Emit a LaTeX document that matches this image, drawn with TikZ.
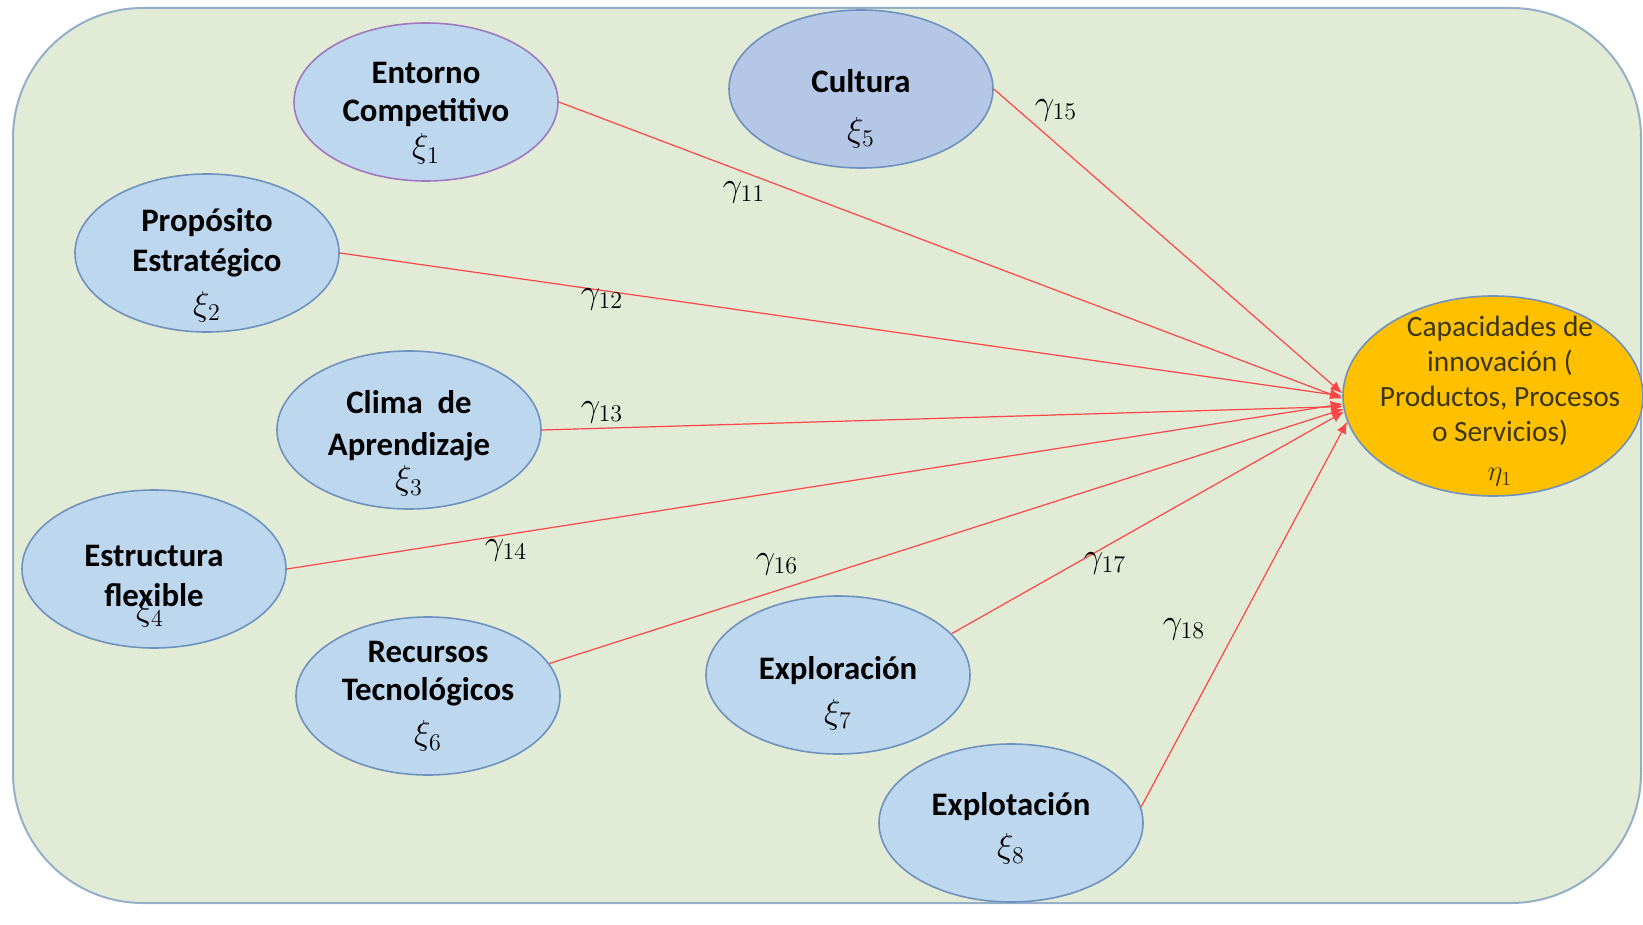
\documentclass[tikz,border=0pt]{standalone}
\usepackage{fontspec}
\setmainfont{Carlito}
\usetikzlibrary{shapes.geometric,arrows.meta}

\definecolor{panelfill}{RGB}{226,235,214}
\definecolor{paneledge}{RGB}{150,175,200}
\definecolor{latfill}{RGB}{189,215,238}
\definecolor{cultfill}{RGB}{180,199,231}
\definecolor{latedge}{RGB}{110,145,190}
\definecolor{entedge}{RGB}{160,120,190}
\definecolor{endofill}{RGB}{255,192,0}
\definecolor{endotext}{RGB}{60,55,15}
\definecolor{pathred}{RGB}{255,70,70}

% text block of an oval, lowered by #2 from the centre
\newcommand{\ovaltext}[3][0pt]{\raisebox{-#2}[0pt][0pt]{\makebox[0pt]{\hspace*{#1}\begin{tabular}{@{}c@{}}#3\end{tabular}}}}

\tikzset{
  latent/.style={ellipse,draw=latedge,fill=latfill,line width=0.8pt,
    minimum width=132pt,minimum height=79pt,inner sep=0pt,
    font=\fontsize{16.4}{19}\selectfont\bfseries},
  endogen/.style={ellipse,draw=latedge,fill=endofill,line width=0.8pt,
    minimum width=150pt,minimum height=100pt,inner sep=0pt,
    text=endotext,font=\fontsize{14.7}{17.5}\selectfont},
  coef/.style={draw=pathred,line width=0.6pt,-{Latex[length=6pt,width=5pt]}},
  gam/.style={inner sep=0pt,font=\fontsize{17}{20}\selectfont}
}

\begin{document}
\begin{tikzpicture}[x=0.5pt,y=-0.5pt]
\useasboundingbox (0,0) rectangle (1643,925);
\draw[draw=paneledge,fill=panelfill,line width=1pt,rounded corners=65pt] (13,8) rectangle (1641,903);

% exogenous constructs
\node[latent,draw=entedge] (E1) at (426,102) {\ovaltext{10.5pt}{Entorno\\Competitivo\\\raisebox{1pt}{$\xi_1$}}};
\node[latent,fill=cultfill] (E5) at (861,89) {\ovaltext{14.5pt}{Cultura\\[5.5pt]$\xi_5$}};
\node[latent] (E2) at (207,253) {\ovaltext{10.8pt}{Propósito\\[1pt]Estratégico\\[3pt]$\xi_2$}};
\node[latent] (E3) at (409,430) {\ovaltext{12.5pt}{Clima\ \ de\\[2pt]Aprendizaje\\\raisebox{2pt}[0pt][0pt]{$\xi_3$}}};
\node[latent] (E4) at (154,569) {\ovaltext{9.5pt}{Estructura\\[1pt]\makebox[0pt]{flexible}\makebox[0pt]{\raisebox{-7pt}[0pt][0pt]{$\xi_4$}\hspace*{4pt}}}};
\node[latent] (E6) at (428,696) {\ovaltext{4.5pt}{Recursos\\Tecnológicos\\[3pt]$\xi_6$}};
\node[latent] (E7) at (838,675) {\ovaltext{13.8pt}{Exploración\\[3pt]$\xi_7$}};
\node[latent] (E8) at (1011,823) {\ovaltext{7.5pt}{Explotación\\[2pt]$\xi_8$}};

% endogenous construct
\node[endogen] (Y) at (1493,396) {\ovaltext[7pt]{6.5pt}{Capacidades de\\innovación (\\Productos, Procesos\\o Servicios)\\[2pt]$\eta_1$}};

% paths
\draw[coef] (E1.east) -- (Y.181);
\draw[coef] (E5.east) -- (Y.179);
\draw[coef] (E2.east) -- (Y.180);
\draw[coef] (E3.east) -- (Y.184);
\draw[coef] (E4.east) -- (Y.183);
\draw[coef] (E6.15) -- (Y.185);
\draw[coef] (E7.20) -- (Y.186);
\draw[coef] (E8.7) -- (Y.190);

% coefficients
\node[gam] (g15) at (1056,110) {$\gamma_{15}$};
\node[gam] (g11) at (744,192) {$\gamma_{11}$};
\node[gam] (g12) at (602,299) {$\gamma_{12}$};
\node[gam] (g13) at (602,412) {$\gamma_{13}$};
\node[gam] (g14) at (506,550) {$\gamma_{14}$};
\node[gam] (g16) at (777,564) {$\gamma_{16}$};
\node[gam] (g17) at (1105,563) {$\gamma_{17}$};
\node[gam] (g18) at (1184,629) {$\gamma_{18}$};
\end{tikzpicture}
\end{document}
